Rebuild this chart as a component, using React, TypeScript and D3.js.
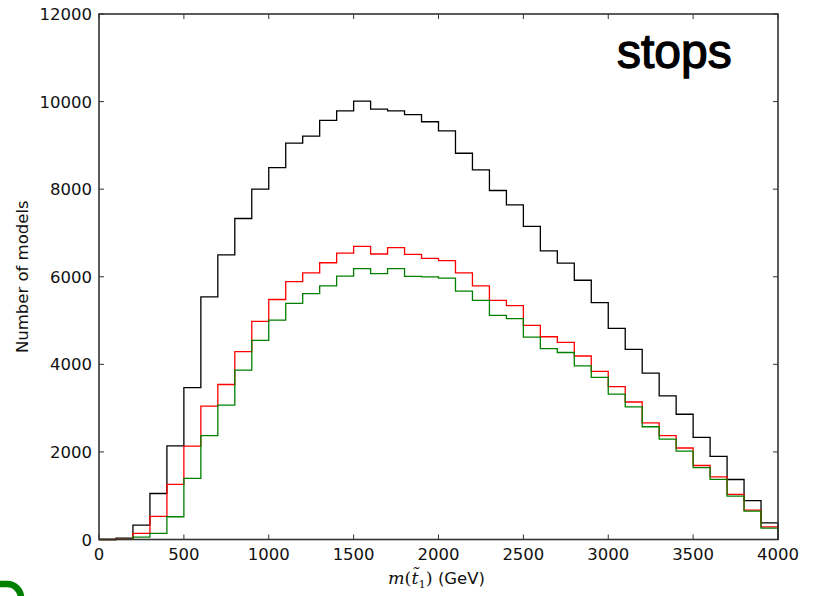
import React from "react";
import * as d3 from "d3";

const binEdges: number[] = d3.range(0, 4000, 100);
const blackCounts: number[] = [0, 30, 330, 1050, 2140, 3470, 5540, 6500, 7330, 8000, 8490, 9050, 9210, 9570, 9790, 10010, 9830, 9790, 9700, 9540, 9330, 8820, 8440, 7970, 7640, 7150, 6590, 6310, 5920, 5410, 4820, 4340, 3800, 3280, 2860, 2330, 1900, 1370, 890, 380];
const redCounts: number[] = [0, 10, 140, 530, 1260, 2130, 3045, 3540, 4290, 4980, 5480, 5890, 6090, 6320, 6540, 6695, 6520, 6665, 6510, 6420, 6370, 6090, 5790, 5460, 5340, 4890, 4630, 4500, 4190, 3840, 3490, 3140, 2665, 2370, 2090, 1690, 1430, 1030, 670, 290];
const greenCounts: number[] = [0, 5, 55, 141, 520, 1396, 2370, 3070, 3870, 4545, 5010, 5390, 5615, 5790, 6015, 6185, 6070, 6185, 6010, 5995, 5970, 5670, 5460, 5120, 5045, 4620, 4360, 4270, 3965, 3700, 3320, 3030, 2575, 2290, 2020, 1640, 1375, 990, 650, 262];
const xTicks: number[] = [0, 500, 1000, 1500, 2000, 2500, 3000, 3500, 4000];
const yTicks: number[] = [0, 2000, 4000, 6000, 8000, 10000, 12000];
const seriesColors: string[] = ["#000000", "#ff0000", "#008000"];

const W = 817;
const H = 596;
const left = 99;
const right = 778;
const top = 14;
const bottom = 539.5;
const binWidth = 100;

export default function App() {
  const x = d3.scaleLinear().domain([0, 4000]).range([left, right]);
  const y = d3.scaleLinear().domain([0, 12000]).range([bottom, top]);
  const series = [blackCounts, redCounts, greenCounts];

  const line = d3
    .line<[number, number]>()
    .x((d) => x(d[0]))
    .y((d) => y(d[1]))
    .curve(d3.curveStepAfter);

  const pathFor = (counts: number[]) => {
    const pts: [number, number][] = [[binEdges[0], 0]];
    counts.forEach((c, i) => pts.push([binEdges[i], c]));
    const lastEdge = binEdges[binEdges.length - 1] + binWidth;
    pts.push([lastEdge, counts[counts.length - 1]]);
    pts.push([lastEdge, 0]);
    return line(pts) || "";
  };

  const tickFont = "'DejaVu Sans', sans-serif";
  const tickLen = 5;
  const frame = "#333333";

  return (
    <div style={{ position: "absolute", left: 0, top: 0, width: W, height: H, background: "#fff" }}>
      <svg width={W} height={H} style={{ display: "block" }}>
        <rect x={0} y={0} width={W} height={H} fill="#ffffff" />
        <g>
          {series.map((s, i) => (
            <path key={i} d={pathFor(s)} fill="none" stroke={seriesColors[i]} strokeWidth={1.3} />
          ))}
        </g>
        {/* frame */}
        <rect x={left} y={top} width={right - left} height={bottom - top} fill="none" stroke={frame} strokeWidth={1.6} />
        {/* x ticks */}
        {xTicks.map((t) => (
          <g key={"x" + t}>
            <line x1={x(t)} x2={x(t)} y1={bottom} y2={bottom - tickLen} stroke={frame} strokeWidth={1} />
            <line x1={x(t)} x2={x(t)} y1={top} y2={top + tickLen} stroke={frame} strokeWidth={1} />
            <text x={x(t)} y={bottom + 20} textAnchor="middle" fontFamily={tickFont} fontSize={16.5} fill="#111">
              {t}
            </text>
          </g>
        ))}
        {/* y ticks */}
        {yTicks.map((t) => (
          <g key={"y" + t}>
            <line x1={left} x2={left + tickLen} y1={y(t)} y2={y(t)} stroke={frame} strokeWidth={1} />
            <line x1={right} x2={right - tickLen} y1={y(t)} y2={y(t)} stroke={frame} strokeWidth={1} />
            <text x={left - 7} y={y(t) + 6} textAnchor="end" fontFamily={tickFont} fontSize={16.5} fill="#111">
              {t}
            </text>
          </g>
        ))}
        {/* axis labels */}
        <text
          transform={`translate(28, ${(top + bottom) / 2}) rotate(-90)`}
          textAnchor="middle"
          fontFamily={tickFont}
          fontSize={16.5}
          fill="#111"
        >
          Number of models
        </text>
        <text x={(left + right) / 2 - 2} y={584} textAnchor="middle" fontFamily={tickFont} fontSize={16.5} fill="#111">
          <tspan fontFamily="'DejaVu Serif', serif" fontStyle="italic" fontSize={17.5}>m</tspan>
          <tspan fontFamily="'DejaVu Serif', serif" fontSize={17.5}>(</tspan>
          <tspan fontFamily="'DejaVu Serif', serif" fontStyle="italic" fontSize={17.5}>{"t\u0303"}</tspan>
          <tspan fontFamily="'DejaVu Serif', serif" fontSize={11.5} dy={4}>1</tspan>
          <tspan fontFamily="'DejaVu Serif', serif" fontSize={17.5} dy={-4}>)</tspan>
          <tspan>{" (GeV)"}</tspan>
        </text>
        {/* title text */}
        <text
          x={617}
          y={68}
          fontFamily="'Liberation Sans', Arial, sans-serif"
          fontSize={48}
          fill="#000"
          stroke="#000"
          strokeWidth={1.3}
        >
          stops
        </text>
        {/* partial green glyph at bottom-left */}
        <path d="M -6 584 H 7 A 14 14 0 0 1 21 598" fill="none" stroke="#008000" strokeWidth={6.5} />
      </svg>
    </div>
  );
}
